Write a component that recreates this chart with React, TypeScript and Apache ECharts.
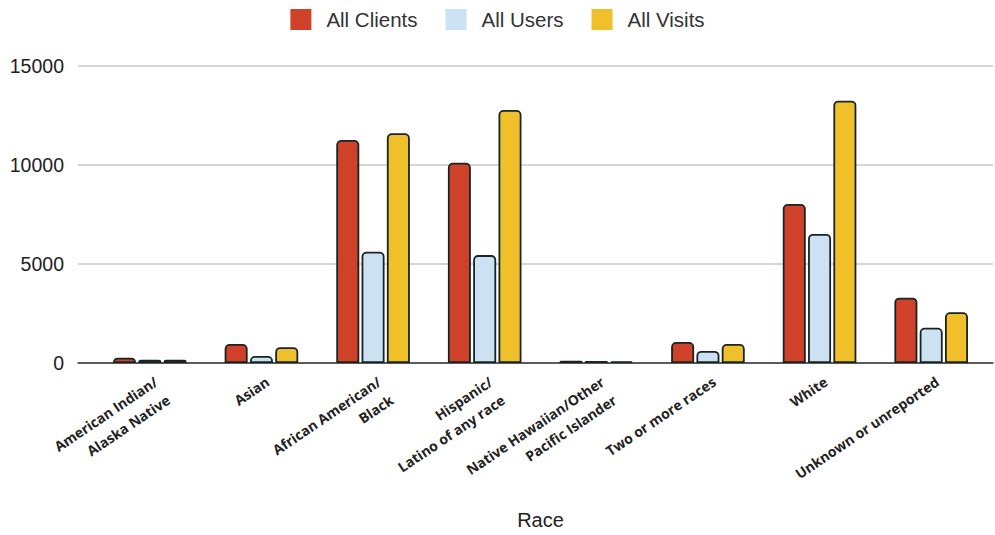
import React, { useEffect, useRef } from "react";
import * as echarts from "echarts";

const categories = [
  "American Indian/\nAlaska Native",
  "Asian",
  "African American/\nBlack",
  "Hispanic/\nLatino of any race",
  "Native Hawaiian/Other\nPacific Islander",
  "Two or more races",
  "White",
  "Unknown or unreported",
];
const allClients = [270, 960, 11260, 10110, 110, 1060, 8030, 3300];
const allUsers = [170, 350, 5620, 5450, 100, 610, 6520, 1780];
const allVisits = [160, 800, 11600, 12780, 90, 960, 13250, 2560];
const seriesNames = ["All Clients", "All Users", "All Visits"];
const colors = ["#D0412A", "#CCE2F2", "#EFC02A"];

export default function App() {
  const ref = useRef<HTMLDivElement>(null);
  useEffect(() => {
    if (!ref.current) return;
    const chart = echarts.init(ref.current, null, { renderer: "svg" });
    const data = [allClients, allUsers, allVisits];
    chart.setOption({
      animation: false,
      backgroundColor: "#ffffff",
      legend: {
        top: 4,
        left: "center",
        icon: "rect",
        itemWidth: 21,
        itemHeight: 21,
        itemGap: 28,
        itemStyle: { borderWidth: 0 },
        textStyle: {
          fontFamily: "Liberation Sans, Arial",
          fontSize: 20.5,
          color: "#333",
          padding: [0, 0, 0, 10],
        },
        data: seriesNames,
      },
      grid: [
        { left: 78, right: 2, top: 66, bottom: 172 },
        { left: 94, right: 8, top: 66, bottom: 172 },
      ],
      xAxis: [
        {
          gridIndex: 0,
          type: "value",
          min: 0,
          max: 1,
          axisLine: { show: true, onZero: false, lineStyle: { color: "#333", width: 1.5 } },
          axisTick: { show: false },
          axisLabel: { show: false },
          splitLine: { show: false },
        },
        {
          gridIndex: 1,
          type: "category",
          data: categories,
          axisLine: { show: false },
          axisTick: { show: false },
          axisLabel: {
            interval: 0,
            rotate: 34,
            margin: 8,
            fontFamily: "Open Sans, sans-serif",
            fontWeight: "bold",
            fontSize: 14,
            lineHeight: 22,
            color: "#222",
            verticalAlign: "top",
          },
          name: "Race",
          nameLocation: "middle",
          nameGap: 147,
          nameTextStyle: { fontFamily: "Liberation Sans, Arial", fontSize: 20, color: "#222" },
        },
      ],
      yAxis: [
        {
          gridIndex: 0,
          type: "value",
          min: 0,
          max: 15000,
          interval: 5000,
          axisLine: { show: false },
          axisTick: { show: false },
          axisLabel: {
            margin: 14,
            fontFamily: "Liberation Sans, Arial",
            fontSize: 19.5,
            color: "#222",
            formatter: (v: number) => String(v),
          },
          splitLine: { show: true, lineStyle: { color: "#c8c8c8", width: 1.5 } },
        },
        {
          gridIndex: 1,
          type: "value",
          min: 0,
          max: 15000,
          show: false,
          splitLine: { show: false },
        },
      ],
      series: seriesNames.map((name, i) => ({
        name,
        type: "bar",
        xAxisIndex: 1,
        yAxisIndex: 1,
        data: data[i],
        barWidth: 23,
        barGap: "10%",
        itemStyle: {
          color: colors[i],
          borderColor: "#182424",
          borderWidth: 1.8,
          borderRadius: [4, 4, 0, 0],
        },
      })),
    });
    return () => chart.dispose();
  }, []);
  return <div ref={ref} style={{ width: 995, height: 535, position: "absolute", left: 0, top: 0 }} />;
}
